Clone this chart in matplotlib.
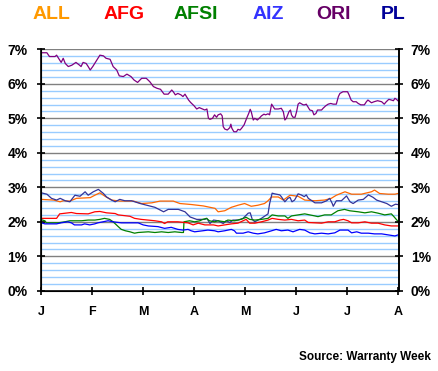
import matplotlib
matplotlib.use("Agg")
import matplotlib.pyplot as plt
import numpy as np

plt.rcParams['font.family'] = ['Liberation Sans', 'DejaVu Sans']
plt.rcParams['font.weight'] = 'bold'

# x = months since Jan 1 (0..7), y = percent
months = ['J', 'F', 'M', 'A', 'M', 'J', 'J', 'A']

ori_x = [0.01, 0.11, 0.16, 0.27, 0.30, 0.35, 0.39, 0.43, 0.47, 0.53, 0.60, 0.68, 0.75, 0.78, 0.82,
         0.88, 0.92, 0.96, 1.01, 1.09, 1.15, 1.22, 1.27, 1.35, 1.41, 1.48, 1.53, 1.61, 1.68, 1.76,
         1.82, 1.89, 1.97, 2.06, 2.13, 2.20, 2.27, 2.34, 2.41, 2.49, 2.56, 2.59, 2.63, 2.68, 2.74,
         2.78, 2.82, 2.89, 2.93, 3.00, 3.05, 3.10, 3.16, 3.21, 3.25, 3.28, 3.31, 3.36, 3.40, 3.44,
         3.47, 3.52, 3.55, 3.57, 3.60, 3.65, 3.70, 3.72, 3.74, 3.78, 3.83, 3.86, 3.90, 3.93, 3.98,
         4.03, 4.07, 4.10, 4.12, 4.16, 4.19, 4.24, 4.29, 4.32, 4.37, 4.40, 4.45, 4.48, 4.52, 4.55,
         4.58, 4.65, 4.71, 4.75, 4.78, 4.81, 4.86, 4.89, 4.91, 4.94, 4.98, 5.01, 5.04, 5.07, 5.14,
         5.17, 5.20, 5.24, 5.27, 5.32, 5.35, 5.39, 5.42, 5.50, 5.53, 5.58, 5.63, 5.68, 5.73, 5.79,
         5.83, 5.86, 5.92, 6.01, 6.04, 6.08, 6.12, 6.18, 6.22, 6.27, 6.34, 6.38, 6.41, 6.48, 6.53,
         6.60, 6.68, 6.73, 6.77, 6.82, 6.87, 6.91, 6.94, 6.97, 7.00, 7.02]
ori_y = [6.90, 6.90, 6.79, 6.79, 6.83, 6.71, 6.62, 6.74, 6.59, 6.50, 6.54, 6.62, 6.54, 6.50, 6.62,
         6.59, 6.50, 6.40, 6.50, 6.69, 6.83, 6.81, 6.74, 6.71, 6.50, 6.40, 6.23, 6.21, 6.28, 6.21,
         6.11, 6.04, 6.16, 6.16, 6.06, 5.92, 5.87, 5.84, 5.70, 5.70, 5.82, 5.77, 5.68, 5.72, 5.68,
         5.63, 5.70, 5.53, 5.46, 5.36, 5.27, 5.31, 5.27, 5.24, 5.27, 5.00, 4.97, 5.00, 5.10, 5.03,
         5.10, 5.13, 5.07, 4.76, 4.69, 4.66, 4.73, 4.83, 4.71, 4.61, 4.61, 4.68, 4.66, 4.71, 4.81,
         5.00, 5.14, 5.26, 5.19, 4.95, 5.00, 4.95, 5.02, 5.07, 5.12, 5.10, 5.13, 5.10, 5.41, 5.34,
         5.27, 5.27, 5.29, 5.19, 4.95, 5.00, 5.19, 5.24, 5.10, 5.03, 5.03, 5.19, 5.41, 5.45, 5.39,
         5.39, 5.41, 5.31, 5.24, 5.22, 5.10, 5.14, 5.24, 5.24, 5.29, 5.36, 5.41, 5.43, 5.41, 5.41,
         5.63, 5.72, 5.77, 5.77, 5.68, 5.53, 5.48, 5.48, 5.43, 5.39, 5.39, 5.48, 5.53, 5.45, 5.48,
         5.51, 5.48, 5.41, 5.48, 5.55, 5.53, 5.51, 5.58, 5.55, 5.51, 5.48]

all_x = [0, 0.24, 0.37, 0.43, 0.56, 0.69, 0.96, 1.05, 1.15, 1.25, 1.38, 1.54, 1.81, 1.97, 2.17,
         2.33, 2.59, 2.72, 2.95, 3.18, 3.31, 3.41, 3.47, 3.60, 3.73, 3.86, 3.99, 4.12, 4.25, 4.38,
         4.45, 4.52, 4.65, 4.75, 4.88, 5.04, 5.17, 5.37, 5.56, 5.69, 5.79, 5.96, 6.09, 6.28, 6.48,
         6.54, 6.64, 6.81, 6.94, 7.00]
all_y = [2.65, 2.63, 2.58, 2.61, 2.60, 2.68, 2.70, 2.77, 2.84, 2.74, 2.63, 2.60, 2.60, 2.53, 2.55,
         2.60, 2.60, 2.53, 2.50, 2.46, 2.42, 2.39, 2.29, 2.32, 2.42, 2.48, 2.53, 2.45, 2.48, 2.53,
         2.61, 2.72, 2.72, 2.63, 2.77, 2.74, 2.63, 2.61, 2.63, 2.68, 2.77, 2.87, 2.80, 2.80, 2.87,
         2.92, 2.82, 2.80, 2.80, 2.82]

pl_x = [0, 0.11, 0.20, 0.30, 0.37, 0.47, 0.56, 0.66, 0.76, 0.86, 0.92, 1.02, 1.12, 1.22, 1.28,
        1.38, 1.45, 1.54, 1.64, 1.77, 1.94, 2.07, 2.23, 2.40, 2.49, 2.69, 2.82, 2.92, 3.05, 3.21,
        3.25, 3.31, 3.38, 3.47, 3.57, 3.63, 3.70, 3.76, 3.86, 3.96, 4.06, 4.10, 4.14, 4.19, 4.32,
        4.45, 4.48, 4.53, 4.58, 4.68, 4.71, 4.78, 4.84, 4.88, 4.92, 4.97, 5.04, 5.10, 5.16, 5.20,
        5.24, 5.37, 5.50, 5.60, 5.66, 5.71, 5.73, 5.79, 5.89, 5.99, 6.06, 6.12, 6.22, 6.32, 6.42,
        6.51, 6.58, 6.68, 6.78, 6.87, 6.95, 7.00]
pl_y = [2.84, 2.80, 2.68, 2.63, 2.68, 2.61, 2.58, 2.77, 2.74, 2.87, 2.77, 2.87, 2.94, 2.82, 2.72,
        2.63, 2.58, 2.65, 2.61, 2.61, 2.53, 2.48, 2.42, 2.29, 2.36, 2.36, 2.29, 2.14, 2.07, 2.07,
        2.10, 1.95, 2.05, 2.03, 1.95, 2.03, 1.98, 2.05, 2.05, 2.10, 2.25, 2.26, 2.07, 2.00, 2.10,
        2.23, 2.52, 2.83, 2.81, 2.78, 2.73, 2.58, 2.68, 2.71, 2.58, 2.63, 2.81, 2.78, 2.73, 2.78,
        2.68, 2.55, 2.55, 2.61, 2.68, 2.53, 2.45, 2.61, 2.61, 2.75, 2.58, 2.53, 2.63, 2.65, 2.78,
        2.71, 2.63, 2.58, 2.53, 2.45, 2.51, 2.50]

afg_x = [0, 0.30, 0.36, 0.59, 0.69, 0.92, 1.05, 1.15, 1.28, 1.45, 1.51, 1.74, 1.83, 1.96, 2.23,
         2.36, 2.42, 2.48, 2.68, 2.88, 2.98, 3.08, 3.21, 3.38, 3.47, 3.60, 3.73, 3.86, 3.96, 4.02,
         4.09, 4.19, 4.32, 4.45, 4.53, 4.65, 4.78, 4.91, 5.04, 5.17, 5.24, 5.37, 5.50, 5.63, 5.76,
         5.86, 5.93, 6.02, 6.09, 6.22, 6.35, 6.48, 6.61, 6.74, 6.87, 7.00]
afg_y = [2.10, 2.10, 2.23, 2.27, 2.24, 2.23, 2.29, 2.30, 2.26, 2.24, 2.20, 2.16, 2.10, 2.07, 2.03,
         2.00, 1.95, 2.00, 2.00, 1.97, 1.91, 1.96, 1.91, 1.91, 1.88, 1.91, 1.94, 1.96, 2.03, 2.07,
         1.96, 1.96, 2.00, 2.05, 2.10, 2.07, 2.05, 2.07, 2.03, 2.05, 1.98, 1.97, 1.96, 2.00, 2.00,
         2.05, 2.07, 2.03, 1.97, 1.97, 2.00, 1.96, 1.96, 1.91, 1.88, 1.88]

afsi_x = [0, 0.07, 0.10, 0.20, 0.33, 0.46, 0.56, 0.65, 0.79, 0.92, 1.05, 1.15, 1.24, 1.34, 1.41,
          1.51, 1.57, 1.65, 1.74, 1.83, 1.90, 2.10, 2.23, 2.36, 2.49, 2.62, 2.75, 2.79, 2.80, 2.91,
          3.01, 3.11, 3.17, 3.24, 3.30, 3.40, 3.47, 3.60, 3.66, 3.79, 3.92, 4.02, 4.09, 4.19, 4.32,
          4.45, 4.53, 4.65, 4.78, 4.84, 4.91, 5.04, 5.17, 5.27, 5.37, 5.43, 5.56, 5.69, 5.82, 5.95,
          6.05, 6.22, 6.35, 6.48, 6.61, 6.74, 6.87, 6.92, 6.99, 7.02]
afsi_y = [2.06, 2.03, 1.97, 1.97, 1.97, 2.00, 2.03, 2.03, 2.03, 2.05, 2.05, 2.07, 2.10, 2.07, 2.00,
          1.86, 1.78, 1.74, 1.71, 1.67, 1.69, 1.71, 1.69, 1.71, 1.69, 1.71, 1.69, 1.69, 2.00, 2.03,
          2.00, 2.03, 2.07, 2.10, 2.03, 2.00, 2.03, 2.00, 2.05, 2.03, 2.07, 2.13, 2.07, 2.05, 2.07,
          2.10, 2.20, 2.17, 2.17, 2.10, 2.17, 2.20, 2.23, 2.20, 2.17, 2.15, 2.20, 2.20, 2.32, 2.36,
          2.32, 2.29, 2.26, 2.29, 2.25, 2.20, 2.23, 2.15, 2.03, 2.00]

aiz_x = [0, 0.07, 0.16, 0.30, 0.39, 0.52, 0.59, 0.65, 0.79, 0.85, 0.95, 1.05, 1.11, 1.21, 1.31,
         1.41, 1.57, 1.74, 1.90, 2.00, 2.10, 2.29, 2.42, 2.55, 2.68, 2.78, 2.88, 2.94, 3.01, 3.17,
         3.27, 3.40, 3.47, 3.60, 3.73, 3.79, 3.83, 3.96, 4.06, 4.16, 4.25, 4.38, 4.52, 4.61, 4.71,
         4.84, 4.94, 5.07, 5.17, 5.27, 5.37, 5.50, 5.63, 5.76, 5.86, 6.02, 6.09, 6.19, 6.28, 6.42,
         6.54, 6.68, 6.81, 6.94, 7.00]
aiz_y = [1.97, 1.94, 1.94, 1.94, 1.97, 2.00, 1.97, 1.91, 1.91, 1.94, 1.91, 1.94, 1.97, 2.00, 2.03,
         2.00, 1.97, 1.97, 1.97, 1.91, 1.88, 1.86, 1.81, 1.84, 1.78, 1.76, 1.78, 1.74, 1.71, 1.74,
         1.76, 1.74, 1.71, 1.74, 1.78, 1.74, 1.67, 1.67, 1.71, 1.67, 1.65, 1.68, 1.74, 1.78, 1.74,
         1.76, 1.71, 1.78, 1.76, 1.68, 1.65, 1.67, 1.65, 1.68, 1.76, 1.76, 1.68, 1.71, 1.67, 1.67,
         1.65, 1.65, 1.62, 1.59, 1.62]

names = ['ALL', 'AFG', 'AFSI', 'AIZ', 'ORI', 'PL']
name_colors = ['#FF9900', '#FF0000', '#008000', '#3333FF', '#660066', '#000099']
name_xpos = [51.7, 123.7, 195.3, 267.8, 333.7, 393.3]  # pixel centres

fig = plt.figure(figsize=(4.38, 3.71), dpi=100)
ax = fig.add_axes([41.3 / 438, 80.2 / 371, 357.7 / 438, 241.5 / 371])

# grid
for v in np.arange(0.2, 7.0, 0.2):
    if abs(v - round(v)) > 0.01:
        ax.axhline(v, color='#99CCFF', lw=1.0, zorder=0)
for v in range(1, 8):
    ax.axhline(v, color='#808080', lw=1.0, zorder=0)

lw = 0.9
ax.plot(ori_x, ori_y, color='#800080', lw=lw)
ax.plot(all_x, all_y, color='#FF6600', lw=lw)
ax.plot(pl_x, pl_y, color='#333399', lw=lw)
ax.plot(afsi_x, afsi_y, color='#008000', lw=lw)
ax.plot(afg_x, afg_y, color='#FF0000', lw=lw)
ax.plot(aiz_x, aiz_y, color='#0000FF', lw=lw)

ax.set_xlim(0, 7.02)
ax.set_ylim(0, 7)
ax.set_xticks(range(8))
ax.set_xticklabels(months, fontsize=9, fontweight='bold')
ax.set_yticks(range(8))
ax.set_yticklabels(['%d%%' % v for v in range(8)], fontsize=10, fontweight='bold')
ax.tick_params(axis='both', direction='inout', length=6, width=1.2)
ax.tick_params(axis='y', pad=7)
ax.tick_params(axis='x', pad=8)
for s in ['top']:
    ax.spines[s].set_visible(False)
for s in ['left', 'right', 'bottom']:
    ax.spines[s].set_linewidth(1.2)

ax2 = ax.twinx()
ax2.set_ylim(0, 7)
ax2.set_yticks(range(8))
ax2.set_yticklabels(['%d%%' % v for v in range(8)], fontsize=10, fontweight='bold')
ax2.tick_params(axis='y', direction='inout', length=6, width=1.2, pad=5.5)
ax2.spines['top'].set_visible(False)
ax2.spines['right'].set_linewidth(1.2)

for n, c, px in zip(names, name_colors, name_xpos):
    fig.text(px / 438, 1 - 14.5 / 371, n, color=c, fontsize=14, fontweight='bold',
             ha='center', va='center')

fig.text(431 / 438, 1 - 357 / 371, 'Source: Warranty Week', fontsize=8.5, fontweight='bold',
         ha='right', va='center')

fig.savefig('out.png', dpi=100)
